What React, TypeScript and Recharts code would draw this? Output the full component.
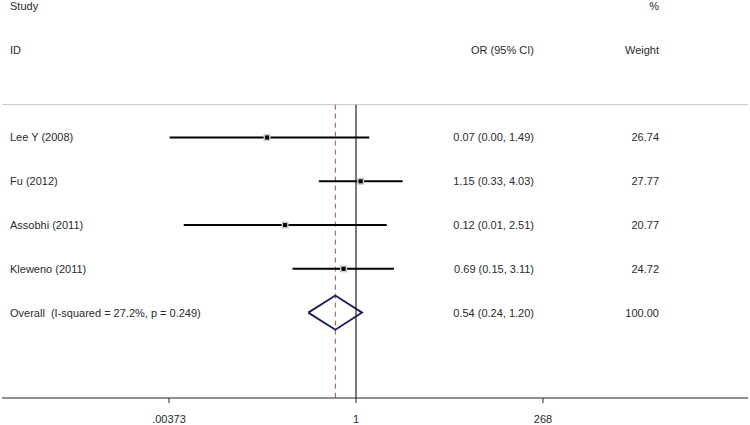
import React from "react";
import { ComposedChart, Scatter, XAxis, YAxis, ReferenceLine } from "recharts";

const studies = ["Lee Y (2008)", "Fu (2012)", "Assobhi (2011)", "Kleweno (2011)"];
const oddsRatios = [0.07, 1.15, 0.12, 0.69];
const ciLow = [0.0038, 0.33, 0.0058, 0.15];
const ciHigh = [1.49, 4.03, 2.51, 3.11];
const ciLabels = ["0.07 (0.00, 1.49)", "1.15 (0.33, 4.03)", "0.12 (0.01, 2.51)", "0.69 (0.15, 3.11)"];
const weights = ["26.74", "27.77", "20.77", "24.72"];

const overallLabel = "Overall  (I-squared = 27.2%, p = 0.249)";
const overallOR = 0.54;
const overallLow = 0.24;
const overallHigh = 1.2;
const overallCiLabel = "0.54 (0.24, 1.20)";
const overallWeight = "100.00";

const xTicks = [0.00373, 1, 268];
const xTickLabels = [".00373", "1", "268"];

const FONT = "'Liberation Sans', Arial, sans-serif";
const TEXT = "#2b2b2b";
const Y_TOP = -2.14;
const Y_BOTTOM = 6.95;
const HEADER_Y = 0.25;
const DIAMOND_H = 0.39;
const overallRow = studies.length + 1;

// left / middle / right text for each row
const rows: { y: number; left: string; mid: string; right: string }[] = [
  { y: -2, left: "Study", mid: "", right: "%" },
  { y: -1, left: "ID", mid: "OR (95% CI)", right: "Weight" },
  ...studies.map((s, i) => ({ y: i + 1, left: s, mid: ciLabels[i], right: weights[i] })),
  { y: overallRow, left: overallLabel, mid: overallCiLabel, right: overallWeight },
];
const textPoints = rows.map((r) => ({ x: 1, ...r }));

const points = studies.map((s, i) => ({ x: oddsRatios[i], y: i + 1 }));
const diamond = [
  { x: overallLow, y: overallRow },
  { x: overallOR, y: overallRow - DIAMOND_H },
  { x: overallHigh, y: overallRow },
  { x: overallOR, y: overallRow + DIAMOND_H },
  { x: overallLow, y: overallRow },
];

const RowText = (props: any) => {
  const { cy, payload } = props;
  const style = { fontFamily: FONT, fontSize: 11, fill: TEXT, whiteSpace: "pre" as const };
  return (
    <g>
      <text x={10} y={cy} dy={4} textAnchor="start" xmlSpace="preserve" style={style}>{payload.left}</text>
      <text x={534} y={cy} dy={4} textAnchor="end" style={style}>{payload.mid}</text>
      <text x={659} y={cy} dy={4} textAnchor="end" style={style}>{payload.right}</text>
    </g>
  );
};

const Marker = (props: any) => {
  const { cx, cy } = props;
  return (
    <g>
      <rect x={cx - 3.5} y={cy - 3.5} width={7} height={7} fill="#c8c8c8" />
      <rect x={cx - 2} y={cy - 2} width={4} height={4} fill="#000" />
    </g>
  );
};

export default function App() {
  return (
    <div style={{ position: "absolute", left: 0, top: 0, background: "#fff" }}>
      <ComposedChart width={750} height={425} margin={{ top: 0, right: 2, left: 2, bottom: 0 }}>
        <XAxis
          type="number"
          dataKey="x"
          scale="log"
          domain={[2.53e-5, 1.233e5]}
          allowDataOverflow
          ticks={xTicks}
          tickFormatter={(v: number) => xTickLabels[xTicks.indexOf(v)] ?? String(v)}
          height={27}
          tickSize={5}
          tickMargin={12}
          axisLine={{ stroke: "#222" }}
          tickLine={{ stroke: "#222" }}
          tick={{ fontFamily: FONT, fontSize: 11, fill: TEXT }}
        />
        <YAxis
          type="number"
          dataKey="y"
          domain={[Y_TOP, Y_BOTTOM]}
          reversed
          allowDataOverflow
          hide
        />
        <ReferenceLine y={HEADER_Y} stroke="#c8c8c8" strokeWidth={1} />
        <ReferenceLine
          segment={[{ x: 1, y: HEADER_Y }, { x: 1, y: Y_BOTTOM }]}
          stroke="#222"
          strokeWidth={1.2}
        />
        <ReferenceLine
          segment={[{ x: overallOR, y: HEADER_Y }, { x: overallOR, y: Y_BOTTOM }]}
          stroke="#b04f4f"
          strokeWidth={1}
          strokeDasharray="5 4"
        />
        {studies.map((s, i) => (
          <ReferenceLine
            key={s}
            segment={[{ x: ciLow[i], y: i + 1 }, { x: ciHigh[i], y: i + 1 }]}
            stroke="#000"
            strokeWidth={2}
          />
        ))}
        <Scatter data={points} shape={<Marker />} isAnimationActive={false} />
        <Scatter
          data={diamond}
          line={{ stroke: "#1c1c5c", strokeWidth: 1.8 }}
          shape={() => <g />}
          isAnimationActive={false}
        />
        <Scatter data={textPoints} shape={<RowText />} isAnimationActive={false} />
      </ComposedChart>
    </div>
  );
}
